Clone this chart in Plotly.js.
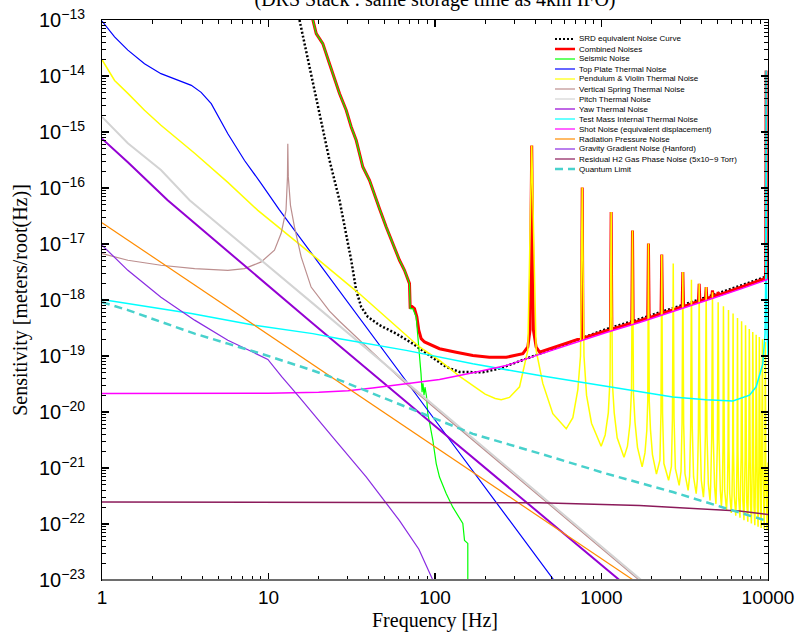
<!DOCTYPE html>
<html>
<head>
<meta charset="utf-8">
<script src="https://cdn.plot.ly/plotly-3.0.1.min.js"></script>
<style>html,body{margin:0;padding:0;background:#fff;}#chart{width:800px;height:639px;}</style>
</head>
<body>
<div id="chart"></div>
<script>
// ---------------- data ----------------
const titleText = '(DRS Stack : same storage time as 4km IFO)';
const xTitle = 'Frequency [Hz]';
const yTitle = 'Sensitivity [meters/root(Hz)]';
const xTickVals = [1, 10, 100, 1000, 10000];
const xTickText = ['1', '10', '100', '1000', '10000'];
const yTickVals = [1e-23, 1e-22, 1e-21, 1e-20, 1e-19, 1e-18, 1e-17, 1e-16, 1e-15, 1e-14, 1e-13];
const yTickText = ['10<sup>\u221223</sup>', '10<sup>\u221222</sup>', '10<sup>\u221221</sup>', '10<sup>\u221220</sup>',
  '10<sup>\u221219</sup>', '10<sup>\u221218</sup>', '10<sup>\u221217</sup>', '10<sup>\u221216</sup>',
  '10<sup>\u221215</sup>', '10<sup>\u221214</sup>', '10<sup>\u221213</sup>'];

const seriesNames = [
  'SRD equivalent Noise Curve', 'Combined Noises', 'Seismic Noise', 'Top Plate Thermal Noise',
  'Pendulum & Violin Thermal Noise', 'Vertical Spring Thermal Noise', 'Pitch Thermal Noise',
  'Yaw Thermal Noise', 'Test Mass Internal Thermal Noise', 'Shot Noise (equivalent displacement)',
  'Radiation Pressure Noise', 'Gravity Gradient Noise (Hanford)',
  'Residual H2 Gas Phase Noise (5x10\u22129 Torr)', 'Quantum Limit'
];

const srdF = [15.0,15.36,16.84,18.45,20.25,23.25,26.70,29.30,31.39,33.63,36.05,39.49,46.42,58.5,73.56,92.7,116.8,140.3,193.6,244,293,353,424.6,672.3,1067,1691,2681,4255,6743,10000];
const srdH = [1.38e-13,1.0e-13,2.88e-14,7.31e-15,2.13e-15,3.13e-16,6.03e-17,1.53e-17,5.12e-18,1.49e-18,7.5e-19,5.0e-19,3.55e-19,2.51e-19,1.66e-19,1.02e-19,6.37e-20,5.18e-20,5.13e-20,5.96e-20,7.31e-20,9.0e-20,1.1e-19,1.86e-19,3.02e-19,4.57e-19,7.08e-19,1.12e-18,1.78e-18,2.69e-18];

const combF = [18.0,18.45,19.35,20.25,21.19,23.25,24.33,26.70,29.30,31.39,33.63,36.86,40.43,44.36,46.42,50.93,55.79,61.20,65.59,68.65,70.28,70.97,72.1,75.3,77.8,79.9,82.6,86.5,96.6,106.4,134,168.7,212,268,337,361,372,381,390,405,424.6,672.3,758,766,774,1067,1132,1143,1154,1520,1535,1550,1691,1895,1914,1933,2278,2301,2324,2681,3050,3080,3110,3822,3860,3898,4210,4252,4294,4594,4640,4686,4970,5020,5070,6743,9640,9700,9740,9780,9880,10000];
const combH = [1.38e-13,1.02e-13,5.71e-14,4.66e-14,3.79e-14,1.66e-14,1.10e-14,4.85e-15,2.44e-15,1.23e-15,7.11e-16,2.37e-16,1.37e-16,6.03e-17,4.27e-17,2.01e-17,1.02e-17,5.12e-18,3.39e-18,2.25e-18,1.96e-18,7.02e-19,7.8e-19,7.0e-19,5.0e-19,2.9e-19,2.04e-19,1.78e-19,1.55e-19,1.35e-19,1.17e-19,1.02e-19,9.5e-20,9.5e-20,1.1e-19,1.45e-19,2.9e-19,5.75e-16,2.9e-19,1.45e-19,1.17e-19,1.86e-19,2.09e-19,1.02e-16,2.09e-19,2.82e-19,3.02e-19,3.72e-17,3.02e-19,3.89e-19,1.74e-17,3.89e-19,4.27e-19,4.79e-19,1.02e-17,4.79e-19,5.75e-19,6.46e-18,5.75e-19,6.61e-19,7.59e-19,3.16e-18,7.59e-19,9.55e-19,1.95e-18,9.55e-19,1.05e-18,1.70e-18,1.05e-18,1.15e-18,1.48e-18,1.15e-18,1.23e-18,1.38e-18,1.23e-18,1.66e-18,2.43e-18,4.0e-18,1.26e-14,4.0e-18,2.48e-18,2.51e-18];

const seisF = [18.0,18.45,19.35,20.25,21.19,23.25,24.33,26.70,29.30,31.39,33.63,36.86,40.43,44.36,46.42,50.93,55.79,61.20,65.59,68.65,70.28,70.97,73.56,77.1,78.8,80.7,82.4,83.6,84.7,85.9,87.1,88.9,90.5,97.0,101.7,106.4,116.7,127.9,146.9,150.4,157.4,157.5];
const seisH = [1.38e-13,1.02e-13,5.71e-14,4.66e-14,3.79e-14,1.66e-14,1.10e-14,4.85e-15,2.44e-15,1.23e-15,7.11e-16,2.37e-16,1.37e-16,6.03e-17,4.27e-17,2.01e-17,1.02e-17,5.12e-18,3.39e-18,2.25e-18,1.96e-18,7.02e-19,7.0e-19,5.0e-19,2.51e-19,1.26e-19,4.9e-20,2.25e-20,3.26e-20,2.0e-20,2.77e-20,1.91e-20,9.5e-21,3.16e-21,1.2e-21,6.9e-22,3.5e-22,2.0e-22,1.02e-22,5.1e-23,4.5e-23,1e-24];

const topPlateF = [1,1.19,1.43,1.8,2.26,2.85,3.44,3.94,4.53,5.7,7.18,9.04,11.6,100,515,631];
const topPlateH = [9.55e-14,5.0e-14,2.9e-14,1.66e-14,1.10e-14,8.3e-15,6.8e-15,5.1e-15,3.2e-15,9.3e-16,3.1e-16,1.2e-16,4.1e-17,7.2e-21,1.0e-23,4.5e-24];

const violinF = [1,1.19,1.43,1.8,2.26,3.6,5.7,8.63,18.45,35.2,80.7,106.4,140,169,200,230,250,280,322,361,381,405,444,510,614,
673,721,748,766,785,813,871,995,
1052,1099,1125,1143,1164,1192,1242,1365,
1432,1483,1514,1535,1556,1589,1645,1754,
1824,1871,1897,1914,1936,1968,2023,2138,
2243,2276,2301,2326,2370,2529,
2630,2667,2697,2727,2778,2927,
3003,3046,3080,3114,3172,3313,
3382,3431,3469,3507,3573,3704,
3764,3818,3860,3902,3976,4095,
4146,4205,4252,4299,4380,4485,
4524,4589,4640,4691,4779,4868,
4894,4965,5020,5075,5171,5250,
5319,5368,5400,5432,5492,5634,
5703,5755,5790,5825,5888,6018,
6077,6133,6170,6207,6275,6404,
6462,6521,6560,6599,6672,6788,
6836,6898,6940,6982,7058,7174,
7220,7286,7330,7374,7455,7564,
7604,7674,7720,7766,7851,7948,
7979,8051,8100,8149,8238,8334,
8363,8439,8490,8541,8634,8718,
8737,8817,8870,8923,9021,9104,
9121,9204,9260,9316,9417,9488,
9515,9582,9640,9698,9804,9874,
9960,10000];
const violinH = [1.95e-14,8.32e-15,4.90e-15,2.45e-15,1.32e-15,4.17e-16,1.26e-16,3.98e-17,6.31e-18,1.29e-18,1.45e-19,8.32e-20,4.37e-20,2.95e-20,2.09e-20,1.74e-20,1.66e-20,1.82e-20,2.82e-20,1.26e-19,5.75e-16,1.26e-19,3.24e-20,9.33e-21,5.01e-21,
7.94e-21,2.51e-20,1.0e-19,1.02e-16,1.0e-19,2.0e-20,6.31e-21,2.45e-21,
3.89e-21,9.77e-21,3.89e-20,3.72e-17,3.09e-20,9.77e-21,3.47e-21,1.55e-21,
2.45e-21,6.17e-21,2.45e-20,1.74e-17,2.09e-20,6.61e-21,2.34e-21,1.05e-21,
1.86e-21,4.68e-21,1.66e-20,1.02e-17,1.55e-20,4.90e-21,1.74e-21,7.76e-22,
1.38e-21,9.77e-21,6.46e-18,9.55e-21,1.20e-21,6.03e-22,
1.07e-21,7.59e-21,4.47e-18,7.76e-21,9.77e-22,4.90e-22,
8.71e-22,6.17e-21,3.16e-18,6.31e-21,7.94e-22,3.98e-22,
7.08e-22,5.01e-21,2.29e-18,5.50e-21,6.92e-22,3.47e-22,
6.17e-22,4.37e-21,1.95e-18,4.79e-21,6.03e-22,3.02e-22,
5.37e-22,3.80e-21,1.70e-18,4.17e-21,5.25e-22,2.63e-22,
4.68e-22,3.31e-21,1.38e-18,3.63e-21,4.57e-22,2.29e-22,
4.07e-22,2.88e-21,9.12e-19,3.16e-21,3.98e-22,2.0e-22,
3.98e-22,2.51e-21,7.76e-19,2.82e-21,3.98e-22,1.78e-22,
3.55e-22,2.24e-21,6.61e-19,2.51e-21,3.55e-22,1.58e-22,
3.16e-22,2.0e-21,5.75e-19,2.24e-21,3.16e-22,1.41e-22,
2.82e-22,1.78e-21,4.79e-19,2.04e-21,2.88e-22,1.29e-22,
2.57e-22,1.62e-21,4.17e-19,1.86e-21,2.63e-22,1.17e-22,
2.34e-22,1.48e-21,3.55e-19,1.74e-21,2.45e-22,1.10e-22,
2.19e-22,1.38e-21,3.02e-19,1.62e-21,2.29e-22,1.02e-22,
2.04e-22,1.29e-21,2.69e-19,1.51e-21,2.14e-22,9.55e-23,
1.91e-22,1.20e-21,2.40e-19,1.41e-21,2.0e-22,8.91e-23,
1.78e-22,1.12e-21,2.19e-19,1.35e-21,1.91e-22,8.51e-23,
1.70e-22,1.07e-21,2.0e-19,1.29e-21,1.82e-22,8.13e-23,
1.62e-22,1.02e-21,1.78e-19,1.23e-21,1.74e-22,7.76e-23,
2.0e-22,1.26e-21];

const springF = [1,1.43,2.26,3.6,5.7,7.18,9.04,10.86,11.91,12.74,13.0,13.06,13.15,13.55,14.33,15.71,18.03,23.25,26.7,63.8,100,1000,2000];
const springH = [6.76e-18,5.13e-18,4.17e-18,3.63e-18,3.39e-18,3.63e-18,4.79e-18,7.76e-18,1.55e-17,3.98e-17,1.58e-16,6.17e-16,1.58e-16,4.90e-17,2.0e-17,5.89e-18,1.70e-18,6.31e-19,4.17e-19,3.63e-20,1.17e-20,3.72e-23,6.46e-24];

const pitchF = [1,1.43,2.26,3.36,18.45,100,1000,1730,2000];
const pitchH = [1.86e-15,6.31e-16,2.09e-16,6.03e-17,8.71e-19,1.26e-20,3.98e-23,1.0e-23,6.97e-24];

const yawF = [1,1.43,2.48,18.45,100,1000,1283,1500];
const yawH = [7.59e-16,2.88e-16,6.03e-17,3.80e-19,5.62e-21,1.82e-23,1.0e-23,6.76e-24];

const testMassF = [1,3.44,8.24,18.45,26.7,67.1,168.7,424.6,1067,2681,4255,6150,7745,8492,9307,9600,9700,9740,9780,9880,10000];
const testMassH = [1.02e-18,5.75e-19,3.55e-19,2.51e-19,2.04e-19,1.26e-19,7.24e-20,4.47e-20,2.88e-20,1.86e-20,1.66e-20,1.58e-20,2.0e-20,2.82e-20,7.24e-20,2.51e-19,3.16e-18,1.26e-14,3.16e-18,2.51e-19,1.0e-19];

const shotF = [1,10,20,30,42.2,67.1,106.4,168.7,268,424.6,672.3,1067,1691,2681,4255,6743,10000];
const shotH = [2.14e-20,2.16e-20,2.26e-20,2.40e-20,2.69e-20,3.16e-20,3.80e-20,5.01e-20,6.76e-20,1.07e-19,1.70e-19,2.63e-19,3.98e-19,6.17e-19,9.77e-19,1.55e-18,2.34e-18];

const radPressF = [1,10,100,1000,2000];
const radPressH = [2.40e-17,2.40e-19,2.40e-21,2.40e-23,6.0e-24];

const gravGradF = [1,1.43,2.26,3.6,5.7,9.91,12,15.36,24.3,38.6,61.2,80,97,105];
const gravGradH = [9.55e-18,3.39e-18,1.12e-18,4.37e-19,1.91e-19,8.71e-20,4.27e-20,1.82e-20,3.55e-21,6.92e-22,1.15e-22,3.55e-23,1.0e-23,5.62e-24];

const gasF = [1,100,424.6,1691,4255,6743,10000];
const gasH = [2.46e-22,2.45e-22,2.40e-22,2.14e-22,1.86e-22,1.70e-22,1.48e-22];

const quantumF = [1,1.43,2.26,3.6,5.7,9.04,18.45,26.7,67.1,168.7,424.6,1067,2681,6743,10000];
const quantumH = [9.12e-19,6.61e-19,4.07e-19,2.51e-19,1.66e-19,1.10e-19,5.50e-20,3.72e-20,1.23e-20,4.07e-21,1.82e-21,7.94e-22,3.72e-22,1.62e-22,1.12e-22];

// ---------------- styles ----------------
const styles = [
  {color:'#000000', width:2.5, dash:'2px,2px', legW:2},
  {color:'#ff0000', width:3,   dash:'solid',   legW:2.5},
  {color:'#00ff00', width:1.2, dash:'solid',   legW:1.2},
  {color:'#0000ff', width:1.2, dash:'solid',   legW:1.2},
  {color:'#ffff00', width:1.5, dash:'solid',   legW:1.2},
  {color:'#bc8f8f', width:1.2, dash:'solid',   legW:1.2},
  {color:'#d3d3d3', width:2,   dash:'solid',   legW:1.2},
  {color:'#9400d3', width:2,   dash:'solid',   legW:1.2},
  {color:'#00ffff', width:1.5, dash:'solid',   legW:1.2},
  {color:'#ff00ff', width:1.5, dash:'solid',   legW:1.2},
  {color:'#ff8c00', width:1.2, dash:'solid',   legW:1.2},
  {color:'#8a2be2', width:1.2, dash:'solid',   legW:1.2},
  {color:'#8b1a5a', width:1.5, dash:'solid',   legW:1.2},
  {color:'#48d1cc', width:2.5, dash:'8px,5px', legW:2.5}
];
const seriesX = [srdF, combF, seisF, topPlateF, violinF, springF, pitchF, yawF, testMassF, shotF, radPressF, gravGradF, gasF, quantumF];
const seriesY = [srdH, combH, seisH, topPlateH, violinH, springH, pitchH, yawH, testMassH, shotH, radPressH, gravGradH, gasH, quantumH];

const traces = seriesNames.map((n, i) => ({
  type:'scatter', mode:'lines', name:n, x:seriesX[i], y:seriesY[i],
  line:{color:styles[i].color, width:styles[i].width, dash:styles[i].dash},
  showlegend:false, hoverinfo:'skip'
}));
// empty helper trace so the overlay (minor tick) axes get drawn
traces.push({type:'scatter', mode:'lines', x:[], y:[], xaxis:'x2', yaxis:'y2', showlegend:false, hoverinfo:'skip'});

// ---------------- layout ----------------
const W = 800, H = 639;
const M = {l:102, r:32, t:20, b:59};
const pw = W - M.l - M.r, ph = H - M.t - M.b;
const pxX = px => (px - M.l) / pw;
const pxY = py => (H - M.b - py) / ph;

const sansFont = 'Liberation Sans, Arial, Helvetica, sans-serif';
const serifFont = 'Liberation Serif, Times New Roman, Times, serif';

// minor tick positions (2..9 within each decade), drawn on overlay axes
const minorX = [], minorY = [];
for (let d = 0; d < 4; d++) for (let m = 2; m <= 9; m++) minorX.push(m * Math.pow(10, d));
for (let d = -23; d < -13; d++) for (let m = 2; m <= 9; m++) minorY.push(m * Math.pow(10, d));

const shapes = [];
const annotations = [];
const legLineX0 = 555, legLineX1 = 575, legTextX = 578, legY0 = 39, legDy = 10;
seriesNames.forEach((n, i) => {
  const py = legY0 + i * legDy;
  shapes.push({type:'line', xref:'paper', yref:'paper', x0:pxX(legLineX0), x1:pxX(legLineX1), y0:pxY(py), y1:pxY(py),
    line:{color:styles[i].color, width:styles[i].legW, dash:styles[i].dash}});
  annotations.push({xref:'paper', yref:'paper', x:pxX(legTextX), y:pxY(py), text:n, showarrow:false,
    xanchor:'left', yanchor:'middle', borderpad:0, font:{family:sansFont, size:8, color:'#000'}});
});
// bottom frame line drawn grey as in the reference
shapes.push({type:'line', xref:'paper', yref:'paper', x0:0, x1:1, y0:0, y1:0, line:{color:'#6e6e6e', width:2}});

const axisCommon = {
  type:'log', showgrid:false, zeroline:false, showline:true, linecolor:'#000', linewidth:1,
  mirror:'allticks', ticks:'inside', ticklen:7, tickwidth:1.2, tickcolor:'#000'
};
const minorCommon = {
  type:'log', showgrid:false, zeroline:false, showline:false, mirror:'allticks',
  ticks:'inside', ticklen:4, tickwidth:1, tickcolor:'#000', showticklabels:false, tickmode:'array'
};

const layout = {
  width:W, height:H, margin:M, paper_bgcolor:'#fff', plot_bgcolor:'#fff', showlegend:false,
  title:{text:titleText, font:{family:serifFont, size:20, color:'#000'}, xref:'paper', x:0.5, xanchor:'center',
         yref:'container', y:1 - 6 / H, yanchor:'bottom'},
  xaxis:Object.assign({}, axisCommon, {
    range:[0, 4], tickmode:'array', tickvals:xTickVals, ticktext:xTickText,
    tickfont:{family:sansFont, size:19, color:'#000'}, ticklabelstandoff:0,
    title:{text:xTitle, font:{family:serifFont, size:20, color:'#000'}, standoff:6}
  }),
  yaxis:Object.assign({}, axisCommon, {
    range:[-23, -13], tickmode:'array', tickvals:yTickVals, ticktext:yTickText,
    tickfont:{family:sansFont, size:20, color:'#000'}, ticklabelstandoff:12,
    title:{text:yTitle, font:{family:serifFont, size:20, color:'#000'}, standoff:6}
  }),
  xaxis2:Object.assign({}, minorCommon, {overlaying:'x', anchor:'y2', range:[0, 4], tickvals:minorX}),
  yaxis2:Object.assign({}, minorCommon, {overlaying:'y', anchor:'x2', range:[-23, -13], tickvals:minorY}),
  shapes:shapes, annotations:annotations
};

Plotly.newPlot('chart', traces, layout, {displayModeBar:false, staticPlot:true});
</script>
</body>
</html>
